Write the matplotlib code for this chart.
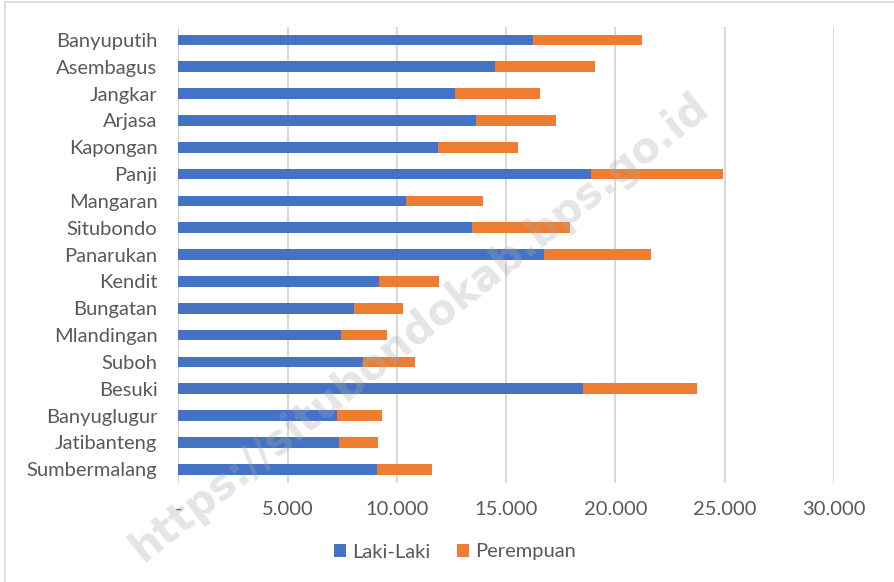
import matplotlib
matplotlib.use("Agg")
import matplotlib.pyplot as plt
from matplotlib.patches import Rectangle
from matplotlib.ticker import FixedLocator

categories = ["Banyuputih", "Asembagus", "Jangkar", "Arjasa", "Kapongan", "Panji",
              "Mangaran", "Situbondo", "Panarukan", "Kendit", "Bungatan", "Mlandingan",
              "Suboh", "Besuki", "Banyuglugur", "Jatibanteng", "Sumbermalang"]
laki = [16230, 14480, 12650, 13640, 11890, 18870, 10410, 13440, 16740, 9180, 8050,
        7440, 8450, 18510, 7260, 7350, 9090]
total = [21200, 19070, 16540, 17260, 15550, 24910, 13950, 17900, 21650, 11910, 10290,
         9530, 10810, 23720, 9330, 9120, 11600]
perempuan = [t - l for t, l in zip(total, laki)]
xticks = [0, 5000, 10000, 15000, 20000, 25000, 30000]
xticklabels = ["-", "5.000", "10.000", "15.000", "20.000", "25.000", "30.000"]
watermark = "https://situbondokab.bps.go.id"

plt.rcParams['font.family'] = ['Lato', 'DejaVu Sans']
W, H = 895, 582
fig = plt.figure(figsize=(W / 100, H / 100), dpi=100)
fig.patch.set_facecolor("white")

left, right, top, bottom = 178.3, 834.0, 26.6, 482.6
ax = fig.add_axes([left / W, 1 - bottom / H, (right - left) / W, (bottom - top) / H])

y = list(range(len(categories)))
ax.barh(y, laki, height=0.4, color="#4472C4", label="Laki-Laki", zorder=3)
ax.barh(y, perempuan, left=laki, height=0.4, color="#ED7D31", label="Perempuan", zorder=3)

ax.set_ylim(len(categories) - 0.5, -0.5)
ax.set_yticks(y)
ax.set_yticklabels(categories)
ax.set_xlim(0, 30000)
ax.xaxis.set_major_locator(FixedLocator(xticks))
ax.set_xticklabels(xticklabels)

ax.grid(axis="x", color="#d9d9d9", linewidth=1.5, zorder=0)
ax.set_axisbelow(True)
for s in ax.spines.values():
    s.set_visible(False)
ax.tick_params(axis="both", length=0, labelsize=14.5, colors="#595959")
ax.tick_params(axis="y", pad=15)
ax.tick_params(axis="x", pad=13)

leg = fig.legend(loc="center", bbox_to_anchor=(455 / W, 1 - 552 / H), ncol=2,
                 frameon=False, fontsize=14.5, handlelength=0.6, handleheight=0.6,
                 handletextpad=0.3, columnspacing=1.3)
for t in leg.get_texts():
    t.set_color("#595959")

# frame
fig.patches.append(Rectangle((5 / W, -0.1), 1.2, 1 - 2 / H + 0.1, transform=fig.transFigure,
                             fill=False, edgecolor="#d9d9d9", linewidth=1.2))

fig.text(420 / W, 1 - 328 / H, watermark, rotation=38.5, ha="center", va="center",
         fontsize=30, fontweight="bold", color="#a8a8a8", alpha=0.3,
         family=["DejaVu Sans"], zorder=10)

fig.savefig("out.png", dpi=100)
